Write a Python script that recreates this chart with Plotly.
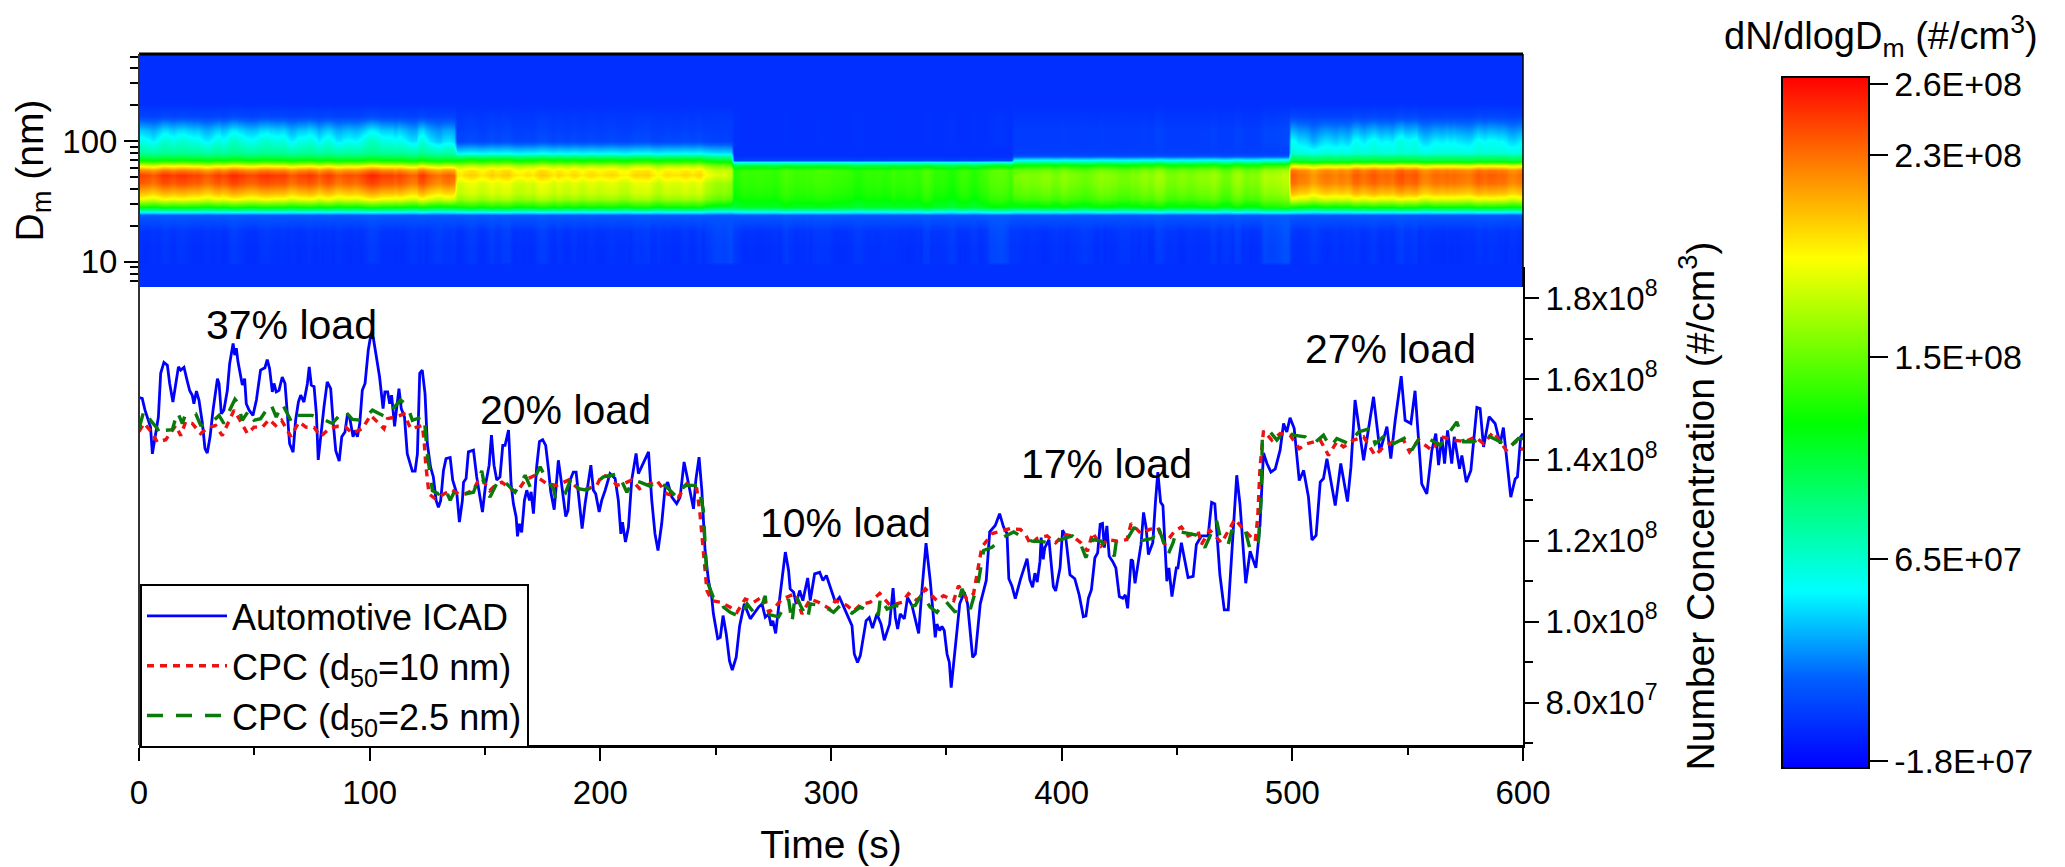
import numpy as np
import plotly.graph_objects as go

# Page is 2065x867; the browser's default 8px body margin offsets the figure
PAGE_OFFSET = 8
W, H = 2065 - PAGE_OFFSET, 867 - PAGE_OFFSET
UNIT = 1e6
FONT = "Liberation Sans"
# plot frame in page pixels: left, right, top, bottom
PL, PR, PT, PB = 139, 1523, 54, 745
PW, PH = PR - PL, PB - PT

# Automotive ICAD (time in s, concentration in 10^6 #/cm3)
icad_t = [0,1.4,2.6,4,5,5.8,6.9,8.4,9.4,10.8,12.3,13.3,14.7,15.9,17.1,18.1,19.5,21,22,23.1,23.8,24.9,26,27.5,28.6,29.6,30.8,32.1,34,34.7,35.7,36.8,38.3,39.3,40.8,41.5,42.2,42.9,44.1,44.8,45.8,46.5,47.7,49.4,50.9,52.7,54.6,55.6,56.6,57.8,58.5,59.5,60.7,62.1,63.3,64.3,65.3,66.8,67.9,69.1,70.1,71.5,73,73.8,74.7,75.9,76.9,77.7,78.8,80.2,81.6,83.1,84.1,85.3,86.8,87.9,89.3,90.3,91.3,92.8,93.6,94.7,95.7,96.8,98,99.4,100.4,101.6,102.9,104.3,105.8,106.6,107.8,108.7,109.5,110.8,111.6,112.7,113.7,115.1,116.3,118.5,119.7,120.7,121.7,122.8,124,125,126.4,127.6,128.8,129.8,130.8,132,133.1,134.9,136,137.8,138.9,140.2,140.7,141.8,142.8,145,146.4,147.9,148.9,150.3,151.8,152.8,153.9,155.1,156.5,157.7,158.7,160.2,161.3,162.3,163.5,164.1,164.9,165.9,167.1,168.1,169.3,170,171,172.4,173.6,175,176.3,177.5,178.5,180,180.8,181.8,182.8,184,185,186,186.9,188.3,189.5,190.8,192.1,193.4,194.4,195.9,197,198,199.5,200.6,202.1,204.2,206.4,207.8,208.9,209.6,210.9,212.2,213.6,215.5,216.5,218,219.4,220.9,222.3,223.7,225,226.6,228.1,229.2,231,233.1,234.6,236.3,237.5,238.9,240.4,241.4,242.8,244,245.4,246.9,248.3,249,250.9,252,253.2,254.6,256,257.2,258.9,260.4,262.4,265,266.5,268.6,270.1,271.5,273,274,274.8,276,277.3,278.3,280.2,281.6,282.3,283.8,284.9,286.4,287.8,289.9,291,292.9,295.1,296.5,298,299.7,301.9,303.7,306.2,309.1,310.1,311.5,312.7,315.2,316.6,318,319.9,321.7,323.1,325.4,326.9,327.9,328.9,330,331.8,333.2,335.1,338,339.4,341.2,343,345.2,345.9,347.1,348.1,349.1,350.3,351.3,352.1,353.6,355.8,357.8,359.2,361.4,362.6,364.7,367.3,368.8,371.2,373.1,374.8,376.3,377.1,378.4,379.9,382.1,383.9,385,386.2,387.4,388.4,389.4,390.6,391.1,392,392.7,394.5,395.5,396.4,397.4,399.3,400.4,401.7,403.6,405.7,407.6,409.4,410.5,411.6,412.9,414.4,415.6,416.7,417.7,418.5,419.6,420.6,422.1,423.5,425,426.5,427.6,428.6,430.1,430.8,431.8,433.3,434.4,435.5,436.6,437.6,439.5,440.7,441.7,442.9,443.9,445.6,446.5,447.8,449.7,450.4,451.9,453.6,454.8,457,458.4,460.6,463.5,465,466.4,468.6,470.5,472.2,474.4,475.9,477.3,479.8,481.7,484.2,486,487.5,489,490.7,492.6,494.7,496.2,497.6,499,500.8,503,504.9,507,508.5,510.3,512.1,513.5,515,518.6,521,523.9,525.4,527.2,530.9,535.2,538,541,542.7,544.6,547.2,548.9,551.4,553.2,556.1,558.3,560.5,562.2,563.4,564.8,566,567.3,569.1,570.2,572.5,573.5,575.4,577.4,580,581.4,582.9,585.3,587.9,590.1,591.5,594.7,596.6,597.6,599,600]
icad_v = [155.4,155.2,152.3,149.8,148.1,141.5,145.7,150.6,161.4,164.1,163.4,158.9,154.3,158.9,163,162.2,162.9,159.3,157.1,156,153.9,157,154.8,149,142.8,141.7,145.7,152.3,160.1,158.9,151.4,152.3,157.2,163.8,168.8,165.9,167.6,164.3,160.1,158.5,160.1,153.9,152.3,151,154.8,162.2,162.8,164.8,162.6,156.8,158.9,156.8,157.2,160.5,158.9,150.6,144,141.9,149.8,154.3,156,154.3,158.9,163,158.5,158.1,151.4,140,146.5,153.1,159.3,157.6,149.8,142.3,139.7,145.7,146.9,151,150.6,145.7,147.3,145.7,149,157.2,158.9,167.2,170.5,170.1,165.5,160.5,152.7,156.8,156.8,153.9,156,148.3,152.3,157.6,152.7,150.6,141.5,137.2,137.2,141.5,161.4,162.2,156.4,144,138.2,135.8,130,128.3,130,137.4,140.3,140.6,135,131.6,124.6,130,134.5,135.4,142,142.4,135.8,130,127.1,134.1,138.7,146.1,138.7,135,135.8,143.6,143.6,147.4,134.1,129.2,125.9,121.1,124.2,122.1,130,132.5,130,132.1,126.7,138.3,144.5,145,143.6,137.8,132.1,127.7,134.1,139.9,135.8,130,126,127.5,135,137,137,130,123,129.2,133.3,138.7,132.5,131.6,127.1,130,132.5,136.6,135.4,130,121.7,124.6,119.7,123.4,135,141.6,136.6,138.3,139.9,142,130,121.7,117.6,124.2,133.3,134.5,130.8,129.2,130.8,139.5,136.2,132.1,127.9,135,140.7,132.5,117.6,110.1,106,102,95.8,96.1,101.5,96.9,90.3,88,91.2,99,104.4,100.7,101.9,103.6,104.4,101.1,101.9,99,100.2,97.1,103.6,108.5,117.2,112.7,108.1,107.3,104.4,107.7,105.2,110.8,105.2,111.8,112.2,110.2,111.4,108.5,104.8,106,102.7,99,92,89.9,91.6,100.2,101,98.4,101.9,99.4,95.4,99.4,108.3,101.1,98.2,101.9,100.7,106,104,97.1,107.7,119.4,110.2,96.1,99.4,97.8,98.8,97.8,92,89.9,83.7,92.8,104.4,107.3,104.4,91.2,92,104.4,110.2,122.2,123.8,126.7,123.4,121.8,110.6,108.9,105.7,110.4,113.7,115.6,110.4,108.5,112,109.8,114.9,120.8,115.4,118.3,120.3,113.3,108.7,107.6,113.3,122.6,121.2,111.6,110.6,106.6,101.2,101.4,105.8,107.9,115.8,117,124.1,124.3,118.3,123.7,116.2,114.9,113.3,106.2,105.8,106.6,103.3,115.4,115,109.5,115.4,119.1,127,123.3,116.6,119.5,129.9,137,129.5,128.7,110,113.3,106.2,113.3,113.3,119.5,114.5,110.9,111.2,119.1,121.2,121.2,129.5,129.1,111.6,102.9,102.9,123.3,136.2,129.1,109.5,117.4,113.3,124.1,141.7,139.1,137,137.8,142.4,149,146.9,150.4,147.8,134.9,137.4,130.8,120.2,121.3,134.5,135.4,140.3,128.7,139.1,129.7,138.2,154.8,139.9,155.6,142,148.2,140.3,149.8,160.7,149.8,149,157.1,134.1,131.6,142.4,146.5,138.7,145.7,139.1,147.3,139.1,145.7,137.8,141.1,134.5,137.4,153,152.7,143.2,150.7,149,144,148,130.8,135.3,135.8,145.7,146.5]

# CPC d50 = 10 nm
cpc10_t = [0,2.2,5.8,7.9,11.6,15.9,18.1,20.2,23.1,26.7,30.3,33.2,36.1,39,41.2,43.4,47,49.9,53.5,56.4,59.2,61.8,65.8,69.4,72.3,75.9,78.8,82.4,86,89.6,92.5,96.8,100.4,103.3,106.2,107.7,111.3,114.9,117.8,122.8,123.6,124.3,125.7,128.4,132,135.6,138.5,141.4,145,147.2,148.6,152,154.4,157.3,160.9,163.8,167.4,171.7,176.8,181.1,186.2,191.2,194.8,198.5,200.6,204.2,207.1,210,213.6,217,220.1,224.5,228.8,233.9,237.5,241.8,243.2,244,245,246.2,248.3,252,256.3,259.2,262.8,266.5,270.8,273,275.8,278.7,284.5,287.4,291,294.6,299.7,301.9,306.9,309.8,312.7,317,321.1,325.7,330.8,333.6,337.3,340.9,345.9,348.8,353.2,355.3,358.9,361.8,363.6,365.4,369.8,377.7,382.1,384.3,386.5,389.4,393.7,397.4,401,404.6,408.3,411.2,413.4,417,419.9,424.3,428.3,430.1,434.4,438.1,441.7,444.6,449,451.9,454.8,459.2,460.6,464.2,469.3,475.1,479.5,483.9,485,486,487.5,491.1,494.7,499,503,506.3,512.1,515.7,519.3,522.2,526.5,530.9,535.9,539.5,543.9,548.2,550.8,554.7,560.5,564.8,569.9,574.9,579.3,582.9,587.2,592.7,596.6,600]
cpc10_v = [147,149.1,146.6,144.4,145,148.5,146,149.4,149,146.5,148.1,148.5,146,149.4,152.3,150.2,146.5,148.1,148.1,150,148.5,149.8,145.8,149.4,148.1,148,145.8,147.7,148.3,148.1,146.6,147.7,151,149.4,147.7,150.2,150.6,151.4,147.7,148.5,144.8,139,131.6,130.4,131.6,132.6,131.6,131.6,132.6,135,135.4,132.4,133.7,134.5,132.9,132,135,136.2,134.1,133.7,135,132.5,132.9,133.7,136.2,135.8,133.7,134.1,135,132.9,133.7,134.9,131.6,130.8,134.1,132.9,126.7,121.7,116.8,107.7,105.2,104.8,103.6,102.3,105.6,104.8,106.4,102.3,103.6,105.6,106.9,101.9,105.6,104.8,103.1,105.2,104,102.6,104.2,104.8,107,104,104.8,106.9,105.2,108.1,105.2,106.4,105.2,108.9,105.6,106.9,112.7,118.4,121.8,123,122.8,121.6,119.1,120.6,121.2,119.5,121.6,121.2,119.5,117.4,122,118.7,120.3,119.9,120.3,124.3,121.8,122.8,123.3,119.1,122.4,123.4,121.2,122.3,119.1,122.6,119.5,125.3,122.4,119.9,125.8,138.2,147.2,144.9,146.5,146.1,142.8,144,144.9,141.1,144.5,143.2,144.9,145.7,141.1,143.2,144.5,144.9,142,144.9,142.4,145.7,144.9,144.5,145.7,144,146.9,142.4,144.5,142.4]

# CPC d50 = 2.5 nm
cpc25_t = [0,2.2,5,8,9.4,10.8,14.5,16.6,18.8,20.2,22.4,24.6,26.7,30.3,34.7,36.8,39,41.6,42.6,44.8,47.7,49.9,52.7,57.1,59.5,62.1,66.5,68.6,75.1,79.2,83.8,88.9,92.5,96.8,101.2,106.9,113.4,116.3,118.5,123.6,125,127.2,129.8,132.7,134.9,137,140.7,145,148.6,150,152.2,155.8,159.4,163,167.4,169.6,173.9,176.8,179.7,180.8,184.7,187.6,190.5,194.1,197.7,201.3,205,207.8,211.5,214.4,217.2,221.6,224.5,228.8,233.1,236.7,242.5,244.7,245.4,246.2,249,251.9,253.4,256.3,260.7,263.6,266.5,270.1,271.5,272.2,277.3,281.6,283.1,284.5,287.1,289.9,291,295.4,299,301.1,304,309.1,312.7,316.3,320.6,321.4,324.3,327.9,331.5,336.5,339.4,343,345.9,349.5,353.9,356.8,360.4,364,366.2,369.8,374.8,379.2,382.1,387.2,391.6,395.2,404.6,408.3,410.5,413.4,417,422.8,423.6,427.9,431.5,433.7,439.5,441.7,446.1,448.3,449.7,458.4,462.1,464.2,467.2,468.6,472.2,473.7,479.5,481.7,485.3,486.5,487,490.4,493.3,496.9,500.5,505.6,509.2,513.5,516.4,519.3,524.4,528.7,533.8,535.9,541,543.9,549.6,551.8,555.4,559.8,564.1,567.7,571.3,574.2,578.6,584.3,590.1,593.7,598,600]
cpc25_v = [147.7,152.3,149.8,147.7,146,147.3,147.5,151.9,149,151.4,151.6,151.4,148.6,148.6,151,149,151.9,155,154.3,149.8,152.3,149.8,150.2,153.9,150.6,153.9,149,151,151,150.2,149,152.3,150,149.8,152.3,150.6,154.8,153.5,149.8,150.8,141.5,132.4,131.6,132.9,130,132.5,131.5,132,137.3,132.9,130.8,135,134.1,132,136.2,133.3,138.3,135,132.9,130,131.6,135.8,132.9,132.5,134.1,135.8,136.2,136.6,132,134.9,134.5,133.5,134.9,133.3,130.8,133.7,133.7,127.5,119.2,110.1,106,105.4,103.6,102.3,101.2,104.4,102.3,104,106.4,101.9,101.2,105.6,99.8,106.9,103.6,100.7,104.4,104,103.1,102.3,104,102.1,103.6,102.6,101.9,106,103.1,104,103.6,104,106.9,103.6,102.3,105.2,102.3,108.1,103.1,110.2,117.6,118.4,120.9,122.2,121.2,119.9,119.8,119.5,121.2,119.1,115.8,120.3,119.9,116.2,119.5,119.9,123.4,119.9,120.6,123.7,116.6,119.5,122.4,121.4,118.3,121.2,124.9,121.2,119.1,122.4,122.8,117.8,119.9,130.8,145.7,146.9,144.9,147.3,146.1,145.7,144,146.1,143.2,145.3,144,146.9,147.8,144,146.5,144,145.7,142.4,145.7,145,143.6,146.5,149.4,144.5,144.5,146.1,144.5,142.8,145.3,145.3]

# Size spectrum: diameters (nm) and dN/dlogDm (10^6 #/cm3) for each engine load
diameters = [6.2,9.5,10,13,18,24.5,26,28.5,33,37,45,52,58,63,67,70,75,80,100,123,160,206,525]
profile_37 = [-3,-3,-4,-4,-2,13,50,121,183,206,235,243,222,178,140,121,95,80,56,38,5,-3,-3]
profile_20 = [-3,-3,-4,-4,-2,13,50,121,160,172,178,196,190,165,135,121,85,50,6,3,0,-3,-3]
profile_10 = [-3,-3,-4,-4,-2,13,50,112,125,130,134,136,136,105,55,5,-2,-3,-3,-3,-3,-3,-3]
profile_17 = [-3,-3,-4,-4,-2,13,50,118,140,148,155,158,150,125,85,55,12,3,2,2,-1,-3,-3]
profile_27 = [-3,-3,-4,-4,-2,13,50,121,180,205,228,232,225,178,128,105,85,62,48,30,5,-3,-3]
segment_ends = [138,258,379,499,600]
segment_profiles = [profile_37,profile_20,profile_10,profile_17,profile_27]
heat_times = np.arange(0,601,1.5)

cb_ticks = [-18,65,148,231,260]
cb_text = ["-1.8E+07","6.5E+07","1.5E+08","2.3E+08","2.6E+08"]
right_ticks = [80,100,120,140,160,180]
right_text = ["%sx10<sup>%d</sup>"%(m,e) for m,e in [("8.0",7),("1.0",8),("1.2",8),("1.4",8),("1.6",8),("1.8",8)]]
load_labels = ["37% load","20% load","10% load","17% load","27% load"]
load_x = [66.3,185,306.4,419.5,542.4]
load_y = [173.4,152.4,124.3,139,167.4]

# The SMPS map follows the same second-to-second fluctuation as the ICAD record
icad_on_grid = np.interp(heat_times, icad_t, icad_v)
z = np.zeros((len(diameters), len(heat_times)))
start = 0
for end, prof in zip(segment_ends, segment_profiles):
    mask = (heat_times >= start) & (heat_times <= end)
    mean = icad_on_grid[mask].mean()
    dev = icad_on_grid[mask] / mean - 1
    for i, d in enumerate(diameters):
        base = prof[i]
        if 10 <= d <= 18:
            z[i, mask] = base + 35 * np.abs(dev) + 18 * np.clip(dev, 0, None)
        elif d >= 100:
            z[i, mask] = -3 + (base + 3) * (1 + 2.0 * dev) + (10 * np.abs(dev) if d <= 160 else 0)
        else:
            z[i, mask] = -3 + (base + 3) * (1 + 0.35 * dev)
    start = end

cscale = [[0,"#0000ff"],[0.13,"#0060ff"],[0.256,"#00ffff"],[0.5,"#00ff00"],[0.738,"#ffff00"],[0.87,"#ff8000"],[1,"#ff0000"]]
Z0, Z1 = -20.9, 263.0

def px(x):
    return (x - PL) / PW

def py(y):
    return (PB - y) / PH

fig = go.Figure()
fig.add_trace(go.Heatmap(
    x=heat_times, y=diameters, z=z*UNIT, zsmooth="best", xaxis="x", yaxis="y",
    colorscale=cscale, zmin=Z0*UNIT, zmax=Z1*UNIT, showlegend=False,
    colorbar=dict(x=px(1782), y=py(422.5), xanchor="left", yanchor="middle",
                  lenmode="pixels", len=691, thicknessmode="pixels", thickness=87, xpad=0, ypad=0,
                  outlinecolor="black", outlinewidth=2, tickmode="array",
                  tickvals=[v*UNIT for v in cb_ticks], ticktext=cb_text, ticks="outside", ticklen=18,
                  tickwidth=1.5, tickcolor="black", tickfont=dict(family=FONT, size=34, color="black"))))

fig.add_trace(go.Scatter(x=icad_t, y=np.array(icad_v)*UNIT, xaxis="x2", yaxis="y2", mode="lines",
                         name="Automotive ICAD", line=dict(color="#0000ff", width=2.8)))
fig.add_trace(go.Scatter(x=cpc10_t, y=np.array(cpc10_v)*UNIT, xaxis="x2", yaxis="y2", mode="lines",
                         name="CPC (d<sub>50</sub>=10 nm)", line=dict(color="#ee1111", width=3.4, dash="7px,6px")))
fig.add_trace(go.Scatter(x=cpc25_t, y=np.array(cpc25_v)*UNIT, xaxis="x2", yaxis="y2", mode="lines",
                         name="CPC (d<sub>50</sub>=2.5 nm)", line=dict(color="#0a7a0a", width=3.4, dash="16px,13px")))

tf = dict(family=FONT, size=33, color="black")
minor_log = [7,8,9,20,30,40,50,60,70,80,90,200,300,400,500]

anns = [dict(x=x, y=v*UNIT, xref="x2", yref="y2", text=t, showarrow=False, xanchor="center",
             font=dict(family=FONT, size=41, color="black"))
        for t, x, v in zip(load_labels, load_x, load_y)]
anns.append(dict(x=px(1881), y=py(36), xref="paper", yref="paper", showarrow=False, xanchor="center", yanchor="middle",
                 text="dN/dlogD<sub>m</sub> (#/cm<sup>3</sup>)", font=dict(family=FONT, size=38, color="black")))

def spine(x0, y0, x1, y1, w, color="black"):
    return dict(type="line", xref="paper", yref="paper", x0=px(x0), x1=px(x1), y0=py(y0), y1=py(y1),
                line=dict(color=color, width=w), layer="above")

fig.update_layout(
    width=W, height=H,
    margin=dict(l=PL-PAGE_OFFSET, r=W+PAGE_OFFSET-PR, t=PT-PAGE_OFFSET, b=H+PAGE_OFFSET-PB, pad=0, autoexpand=False),
    autosize=False, paper_bgcolor="white", plot_bgcolor="rgba(0,0,0,0)",
    xaxis=dict(domain=[0,1], range=[0,600], anchor="y", showticklabels=False, ticks="", showgrid=False, zeroline=False),
    yaxis=dict(domain=[py(287),1], type="log", range=[np.log10(6.2),np.log10(525)], anchor="x",
               tickmode="array", tickvals=[10,100], ticktext=["10","100"], ticks="outside", ticklen=14, tickwidth=2,
               tickcolor="black", tickfont=tf, showgrid=False, zeroline=False,
               minor=dict(tickmode="array", tickvals=minor_log, ticks="outside", ticklen=8, tickwidth=2, tickcolor="black", showgrid=False),
               title=dict(text="D<sub>m</sub> (nm)", font=dict(family=FONT, size=39, color="black"), standoff=12)),
    xaxis2=dict(domain=[0,1], range=[0,600], anchor="y2", tickmode="linear", tick0=0, dtick=100,
                ticks="outside", ticklen=13, tickwidth=2, tickcolor="black", tickfont=tf, showgrid=False, zeroline=False,
                showline=True, linecolor="black", linewidth=3, ticklabelstandoff=3,
                minor=dict(tick0=0, dtick=50, ticks="outside", ticklen=7, tickwidth=2, tickcolor="black", showgrid=False),
                title=dict(text="Time (s)", font=dict(family=FONT, size=39, color="black"), standoff=22)),
    yaxis2=dict(domain=[0,py(267)], range=[69.5*UNIT,187.7*UNIT], anchor="x2", side="right",
                tickmode="array", tickvals=[v*UNIT for v in right_ticks], ticktext=right_text,
                ticks="outside", ticklen=14, tickwidth=2, tickcolor="black", tickfont=tf, showgrid=False, zeroline=False,
                showline=True, linecolor="black", linewidth=2,
                minor=dict(tickmode="array", tickvals=[v*UNIT for v in [70,90,110,130,150,170]], ticks="outside", ticklen=8, tickwidth=2, tickcolor="black", showgrid=False),
                title=dict(text="Number Concentration (#/cm<sup>3</sup>)", font=dict(family=FONT, size=39, color="black"), standoff=30)),
    legend=dict(x=px(140), y=py(584), xanchor="left", yanchor="top", xref="paper", yref="paper",
                bgcolor="white", bordercolor="black", borderwidth=2, itemwidth=80,
                font=dict(family=FONT, size=36, color="black"), tracegroupgap=0),
    annotations=anns,
    shapes=[spine(PL,PT,PR,PT,3), spine(PR,PT,PR,287,1.5), spine(PL,PT,PL,PB,2,"#333333")],
)
fig.write_html("out.html")
